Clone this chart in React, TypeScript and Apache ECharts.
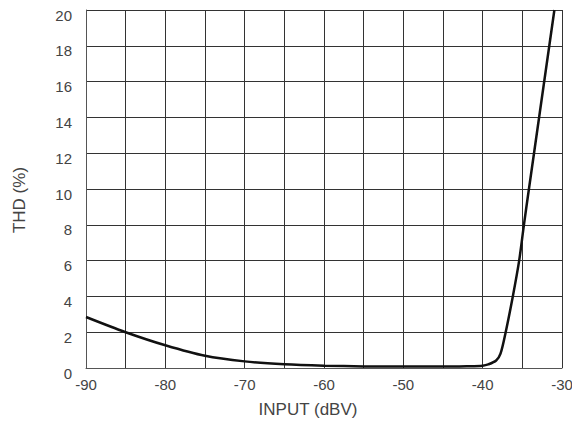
import React, { useEffect, useRef } from "react";
import * as echarts from "echarts";

const inputDbv = [-90, -85, -80, -75, -70, -65, -60, -55, -50, -45, -42, -40, -39.3, -38.3, -37.75, -37.1, -36.2, -35.4, -34.8, -34.2, -30.96];
const thdPct = [2.85, 2.0, 1.27, 0.68, 0.37, 0.21, 0.13, 0.09, 0.08, 0.08, 0.1, 0.13, 0.2, 0.42, 0.8, 2.0, 4.0, 6.0, 8.0, 9.9, 20];

const xTicks = [-90, -80, -70, -60, -50, -40, -30];

const FONT = "Liberation Sans";
const TEXT = "#444";

export default function App() {
  const ref = useRef<HTMLDivElement>(null);
  useEffect(() => {
    if (!ref.current) return;
    const chart = echarts.init(ref.current, undefined, { renderer: "svg" });
    const data = inputDbv.map((x, i) => [x, thdPct[i]]);
    chart.setOption({
      animation: false,
      backgroundColor: "#ffffff",
      grid: { left: 86, right: 18, top: 10, bottom: 60, containLabel: false },
      xAxis: {
        type: "value",
        min: -90,
        max: -30,
        interval: 5,
        name: "INPUT (dBV)",
        nameLocation: "middle",
        nameGap: 33,
        nameTextStyle: { fontFamily: FONT, fontSize: 17, color: TEXT, padding: [0, 32, 0, 0] },
        axisLine: { show: true, lineStyle: { color: "#555", width: 1 } },
        axisTick: { show: false },
        axisLabel: {
          fontFamily: FONT,
          fontSize: 15,
          color: TEXT,
          margin: 9,
          formatter: (v: number) => (xTicks.includes(v) ? String(v) : ""),
        },
        splitLine: { show: true, lineStyle: { color: "#333", width: 1 } },
      },
      yAxis: {
        type: "value",
        min: 0,
        max: 20,
        interval: 2,
        name: "THD (%)",
        nameLocation: "middle",
        nameGap: 58,
        nameTextStyle: { fontFamily: FONT, fontSize: 17, color: TEXT, padding: [0, 22, 0, 0] },
        axisLine: { show: true, lineStyle: { color: "#555", width: 1 } },
        axisTick: { show: false },
        axisLabel: {
          fontFamily: FONT,
          fontSize: 15,
          color: TEXT,
          margin: 14,
          verticalAlign: "top",
          lineHeight: 10,
        },
        splitLine: { show: true, lineStyle: { color: "#333", width: 1 } },
      },
      series: [
        {
          type: "line",
          data,
          smooth: 0.3,
          showSymbol: false,
          symbol: "none",
          lineStyle: { color: "#111", width: 2.5 },
          clip: true,
        },
      ],
    });
    return () => chart.dispose();
  }, []);
  return <div ref={ref} style={{ width: 580, height: 428, margin: -8 }} />;
}
